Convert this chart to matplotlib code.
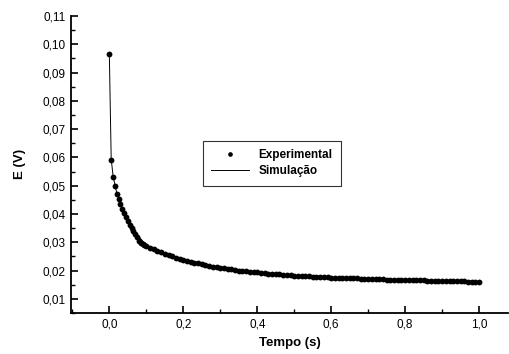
#
# Decaimento de E(V) no tempo: experimental x simulacao
#
import matplotlib
matplotlib.use('Agg')
import matplotlib.pyplot as plt
from matplotlib.ticker import MultipleLocator, FuncFormatter

tExp = [0.0, 0.005, 0.01, 0.015, 0.02, 0.025, 0.03, 0.035, 0.04, 0.045,
        0.05, 0.055, 0.06, 0.065, 0.07, 0.075, 0.08, 0.085, 0.09, 0.095,
        0.10, 0.11, 0.12, 0.13, 0.14, 0.15, 0.16, 0.17, 0.18, 0.19,
        0.20, 0.21, 0.22, 0.23, 0.24, 0.25, 0.26, 0.27, 0.28, 0.29,
        0.30, 0.31, 0.32, 0.33, 0.34, 0.35, 0.36, 0.37, 0.38, 0.39,
        0.40, 0.41, 0.42, 0.43, 0.44, 0.45, 0.46, 0.47, 0.48, 0.49,
        0.50, 0.51, 0.52, 0.53, 0.54, 0.55, 0.56, 0.57, 0.58, 0.59,
        0.60, 0.61, 0.62, 0.63, 0.64, 0.65, 0.66, 0.67, 0.68, 0.69,
        0.70, 0.71, 0.72, 0.73, 0.74, 0.75, 0.76, 0.77, 0.78, 0.79,
        0.80, 0.81, 0.82, 0.83, 0.84, 0.85, 0.86, 0.87, 0.88, 0.89,
        0.90, 0.91, 0.92, 0.93, 0.94, 0.95, 0.96, 0.97, 0.98, 0.99, 1.00]
eExp = [0.0965, 0.0592, 0.0532, 0.0500, 0.0472, 0.0452, 0.0435, 0.0418, 0.0402, 0.0388,
        0.0375, 0.0362, 0.0350, 0.0339, 0.0329, 0.0317, 0.0305, 0.0298, 0.0293, 0.0289,
        0.0286, 0.0281, 0.0276, 0.0270, 0.0264, 0.0259, 0.0254, 0.0250, 0.0245, 0.0241,
        0.0238, 0.0234, 0.0231, 0.0228, 0.0225, 0.0222, 0.0219, 0.0216, 0.0214, 0.0212,
        0.0210, 0.0208, 0.0206, 0.0204, 0.0202, 0.0200, 0.0199, 0.0197, 0.0196, 0.0194,
        0.0193, 0.0192, 0.0190, 0.0189, 0.0188, 0.0187, 0.0186, 0.0185, 0.0184, 0.0183,
        0.0182, 0.0181, 0.0180, 0.0180, 0.0179, 0.0178, 0.0178, 0.0177, 0.0176, 0.0176,
        0.0175, 0.0175, 0.0174, 0.0174, 0.0173, 0.0173, 0.0172, 0.0172, 0.0171, 0.0171,
        0.0170, 0.0170, 0.0169, 0.0169, 0.0169, 0.0168, 0.0168, 0.0167, 0.0167, 0.0167,
        0.0166, 0.0166, 0.0166, 0.0165, 0.0165, 0.0165, 0.0164, 0.0164, 0.0164, 0.0163,
        0.0163, 0.0163, 0.0163, 0.0162, 0.0162, 0.0162, 0.0162, 0.0161, 0.0161, 0.0161, 0.0161]

# Curva simulada
tSim = [0.0, 0.0025, 0.005, 0.01, 0.02, 0.03, 0.04, 0.05, 0.06, 0.07, 0.08,
        0.09, 0.10, 0.12, 0.15, 0.20, 0.25, 0.30, 0.40, 0.50, 0.60, 0.70,
        0.80, 0.90, 1.00]
eSim = [0.0965, 0.0775, 0.0595, 0.0535, 0.0474, 0.0437, 0.0405, 0.0378, 0.0355, 0.0336, 0.0320,
        0.0304, 0.0292, 0.0276, 0.0258, 0.0237, 0.0222, 0.0210, 0.0193, 0.0182, 0.0175, 0.0170,
        0.0166, 0.0163, 0.0161]

xLim = [-0.104, 1.078]
yLim = [0.005, 0.11]

plt.rcParams['font.family'] = ['Liberation Sans', 'DejaVu Sans']

fig = plt.figure(figsize=[5.1, 3.54], dpi=100, facecolor='w')
ax = fig.add_axes([0.139, 0.116, 0.857, 0.839])

ax.plot(tSim, eSim, '-', color='k', linewidth=0.7, label='Simulação')
ax.plot(tExp, eExp, 'o', color='k', markersize=4.2, markeredgewidth=0,
        label='Experimental')

ax.set_xlim(xLim)
ax.set_ylim(yLim)

ax.xaxis.set_major_locator(MultipleLocator(0.2))
ax.xaxis.set_minor_locator(MultipleLocator(0.1))
ax.yaxis.set_major_locator(MultipleLocator(0.01))
ax.yaxis.set_minor_locator(MultipleLocator(0.005))
ax.xaxis.set_major_formatter(FuncFormatter(lambda v, p: ('%.1f' % v).replace('.', ',')))
ax.yaxis.set_major_formatter(FuncFormatter(lambda v, p: ('%.2f' % v).replace('.', ',')))

for side in ['top', 'right']:
    ax.spines[side].set_visible(False)
for side in ['left', 'bottom']:
    ax.spines[side].set_linewidth(1.3)
ax.tick_params(which='major', direction='in', length=5, width=1.2, labelsize=8.5, pad=4)
ax.tick_params(which='minor', direction='in', length=3, width=1.0)

ax.set_xlabel('Tempo (s)', fontsize=9.5, fontweight='bold', labelpad=5)
ax.set_ylabel('E (V)', fontsize=9.5, fontweight='bold', labelpad=12)

handles, labels = ax.get_legend_handles_labels()
leg = ax.legend(handles[::-1], labels[::-1], loc='upper left',
                bbox_to_anchor=(0.302, 0.579), frameon=True, fancybox=False,
                edgecolor='k', prop={'weight': 'bold', 'size': 8.5},
                markerscale=0.8, handlelength=3.2, borderpad=0.7, labelspacing=0.35,
                handletextpad=0.8, borderaxespad=0)
leg.get_frame().set_linewidth(0.8)

plt.savefig('out.png', dpi=100, facecolor='w')
plt.close()
